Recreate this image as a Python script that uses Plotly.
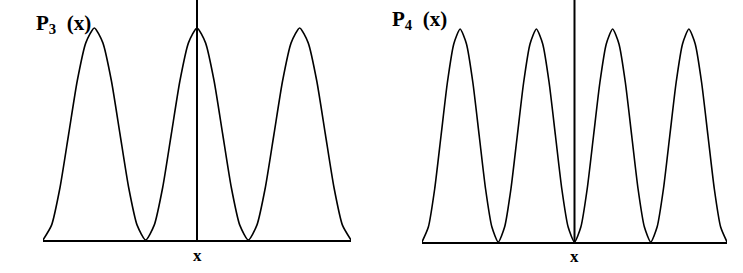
import plotly.graph_objects as go

x_p3 = [i / 12 for i in range(37)]
p3 = [0.00, 0.07, 0.25, 0.50, 0.75, 0.93, 1.00, 0.93, 0.75, 0.50, 0.25, 0.07,
      0.00, 0.07, 0.25, 0.50, 0.75, 0.93, 1.00, 0.93, 0.75, 0.50, 0.25, 0.07,
      0.00, 0.07, 0.25, 0.50, 0.75, 0.93, 1.00, 0.93, 0.75, 0.50, 0.25, 0.07,
      0.00]

# P4(x): four lobes
x_p4 = [i / 12 for i in range(49)]
p4 = [0.00, 0.07, 0.25, 0.50, 0.75, 0.93, 1.00, 0.93, 0.75, 0.50, 0.25, 0.07,
      0.00, 0.07, 0.25, 0.50, 0.75, 0.93, 1.00, 0.93, 0.75, 0.50, 0.25, 0.07,
      0.00, 0.07, 0.25, 0.50, 0.75, 0.93, 1.00, 0.93, 0.75, 0.50, 0.25, 0.07,
      0.00, 0.07, 0.25, 0.50, 0.75, 0.93, 1.00, 0.93, 0.75, 0.50, 0.25, 0.07,
      0.00]

W, H = 743, 273
fig = go.Figure()

line = dict(color="black", width=1.6, shape="spline", smoothing=0.6)
fig.add_trace(go.Scatter(x=x_p3, y=p3, mode="lines", line=line, xaxis="x", yaxis="y",
                         showlegend=False, hoverinfo="skip"))
fig.add_trace(go.Scatter(x=x_p4, y=p4, mode="lines", line=line, xaxis="x2", yaxis="y2",
                         showlegend=False, hoverinfo="skip"))

ax_common = dict(showgrid=False, zeroline=False, showticklabels=False, ticks="",
                 showline=False)

fig.update_layout(
    width=W, height=H, margin=dict(l=0, r=0, t=0, b=0),
    paper_bgcolor="white", plot_bgcolor="white",
    xaxis=dict(domain=[43 / W, 351 / W], range=[x_p3[0], x_p3[-1]], anchor="y",
               **{**ax_common, "showline": True, "linecolor": "black", "linewidth": 2}),
    yaxis=dict(domain=[33 / H, 1], range=[0, 240 / 212], anchor="x", **ax_common),
    xaxis2=dict(domain=[422 / W, 727 / W], range=[x_p4[0], x_p4[-1]], anchor="y2",
                **{**ax_common, "showline": True, "linecolor": "black", "linewidth": 2}),
    yaxis2=dict(domain=[31 / H, 1], range=[0, 242 / 213], anchor="x2", **ax_common),
)

# Central vertical axes
mid3 = (x_p3[0] + x_p3[-1]) / 2
mid4 = (x_p4[0] + x_p4[-1]) / 2
fig.add_shape(type="line", xref="x", yref="y domain", x0=mid3, x1=mid3, y0=0, y1=1,
              line=dict(color="black", width=2))
fig.add_shape(type="line", xref="x2", yref="y2 domain", x0=mid4, x1=mid4, y0=0, y1=1,
              line=dict(color="black", width=2))

font_lbl = dict(family="Liberation Serif", size=21, color="black", weight="bold")
font_x = dict(family="Liberation Serif", size=17, color="black", weight="bold")

fig.add_annotation(text="P<sub>3</sub>  (x)", xref="paper", yref="paper",
                   x=34 / W, y=1 - 24 / H, xanchor="left", yanchor="middle",
                   showarrow=False, font=font_lbl)
fig.add_annotation(text="P<sub>4</sub>  (x)", xref="paper", yref="paper",
                   x=390 / W, y=1 - 20 / H, xanchor="left", yanchor="middle",
                   showarrow=False, font=font_lbl)
fig.add_annotation(text="x", xref="x", yref="paper", x=mid3, y=1 - 255 / H,
                   xanchor="center", yanchor="middle", showarrow=False, font=font_x)
fig.add_annotation(text="x", xref="x2", yref="paper", x=mid4, y=1 - 256 / H,
                   xanchor="center", yanchor="middle", showarrow=False, font=font_x)

fig.write_html("out.html")
